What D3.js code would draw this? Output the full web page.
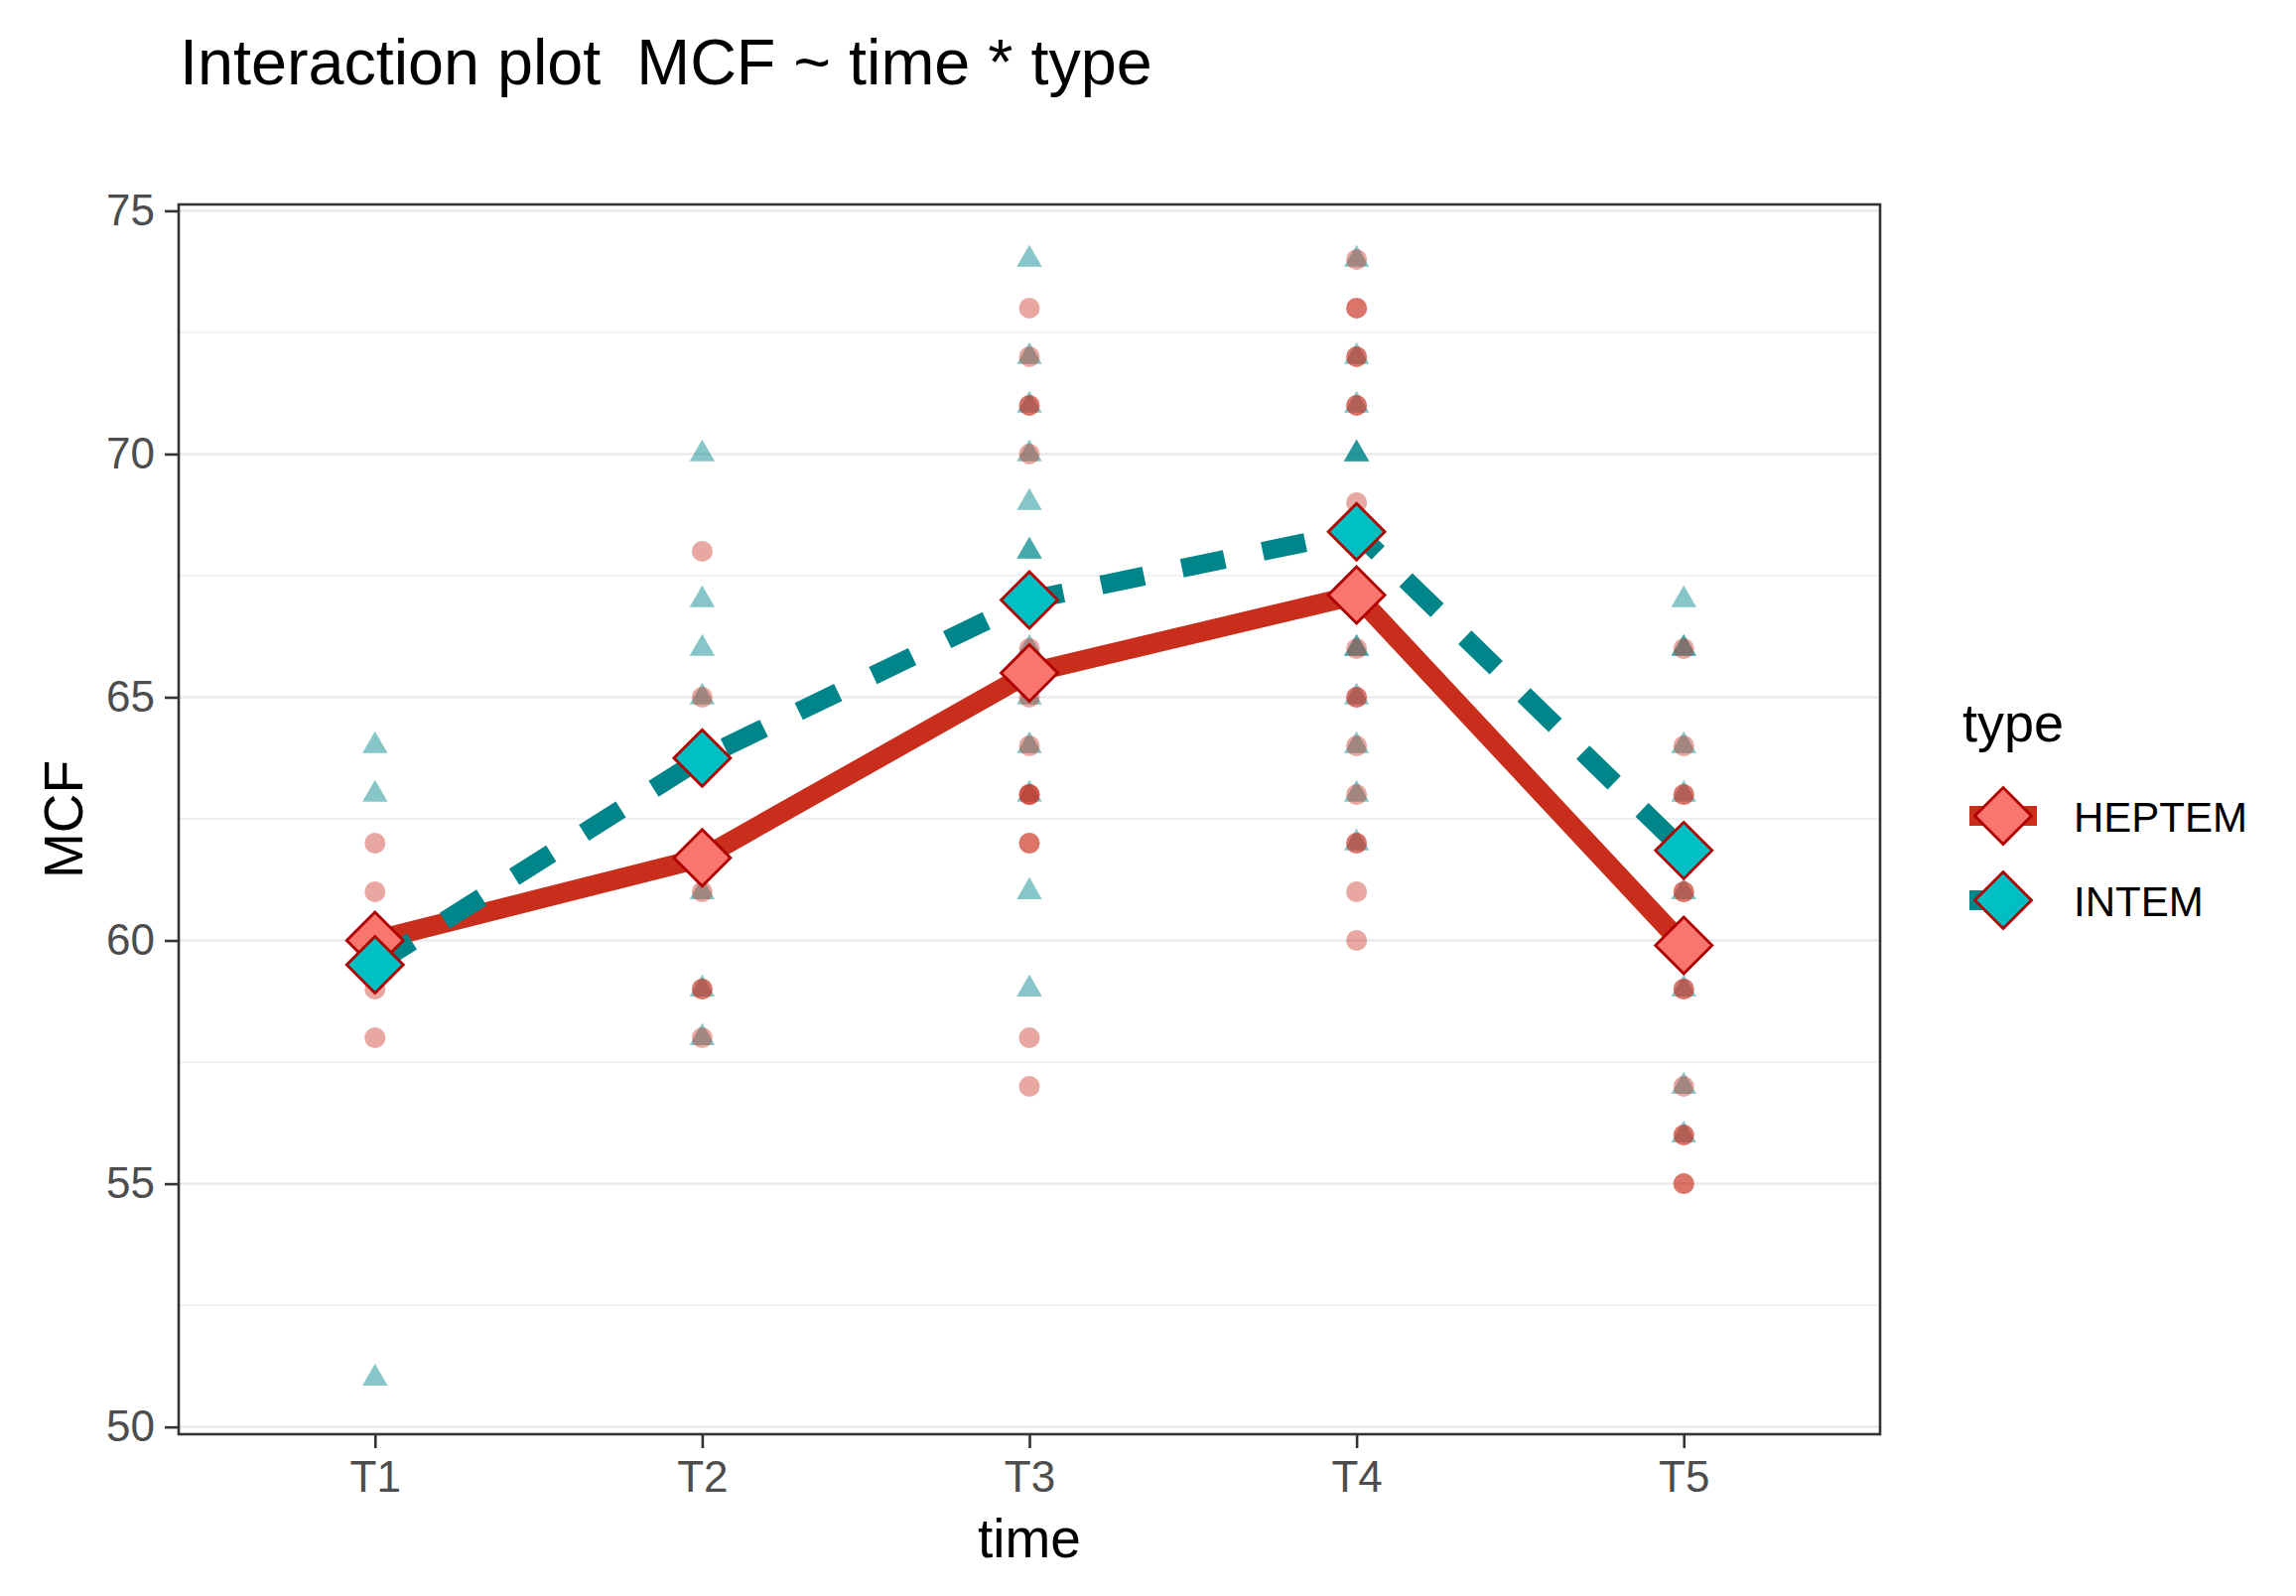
<!DOCTYPE html>
<html>
<head>
<meta charset="utf-8">
<script src="https://cdn.jsdelivr.net/npm/d3@7"></script>
<style>
  body { margin: 0; background: #fff; }
  text { font-family: "Liberation Sans", Arial, Helvetica, sans-serif; }
</style>
</head>
<body>
<svg id="chart" width="2313" height="1608"></svg>
<script>
// data
const times = ["T1", "T2", "T3", "T4", "T5"];
const types = ["HEPTEM", "INTEM"];
const heptemMean = [60.0, 61.7, 65.5, 67.1, 59.9];
const intemMean = [59.5, 63.75, 67.0, 68.4, 61.85];
const heptemObs = [
	[62, 61, 60, 59, 58],
	[68, 65, 61, 59, 59, 58],
	[73, 72, 71, 71, 70, 66, 65, 64, 63, 63, 63, 62, 62, 58, 57],
	[74, 73, 73, 72, 72, 71, 71, 69, 66, 65, 65, 64, 63, 62, 62, 61, 60],
	[66, 64, 63, 63, 61, 61, 59, 59, 57, 56, 56, 55, 55]
];
const intemObs = [
	[64, 63, 60, 51],
	[70, 67, 66, 65, 61, 59, 58],
	[74, 72, 71, 70, 69, 68, 68, 66, 65, 64, 63, 61, 59],
	[74, 72, 71, 70, 70, 70, 66, 66, 65, 64, 63, 62],
	[67, 66, 66, 64, 63, 61, 59, 57, 56]
];
const yTicks = [50, 55, 60, 65, 70, 75];
const yMinor = [52.5, 57.5, 62.5, 67.5, 72.5];

const ctx = { left: 180, right: 1894, top: 206, bottom: 1445 };
const col = {
	heptemLine: "#C92E1C", intemLine: "#00858A",
	heptemFill: "#F8766D", intemFill: "#00BFC4",
	outline: "#B00000"
};

const svg = d3.select("#chart");

const x = d3.scalePoint().domain(times).range([ctx.left, ctx.right]).padding(0.6);
const y = d3.scaleLinear().domain([49.85, 75.13]).range([ctx.bottom, ctx.top]);

// grid
svg.append("g").selectAll("line").data(yMinor).join("line")
	.attr("x1", ctx.left).attr("x2", ctx.right)
	.attr("y1", d => y(d)).attr("y2", d => y(d))
	.attr("stroke", "#EBEBEB").attr("stroke-width", 1.3);
svg.append("g").selectAll("line").data(yTicks).join("line")
	.attr("x1", ctx.left).attr("x2", ctx.right)
	.attr("y1", d => y(d)).attr("y2", d => y(d))
	.attr("stroke", "#EBEBEB").attr("stroke-width", 2.6);

// raw points: triangles (INTEM) under circles (HEPTEM)
function flat(obs) {
	let out = [];
	obs.forEach((vals, i) => vals.forEach(v => out.push({ t: times[i], v: v })));
	return out;
}
const triR = 14.7;
const triPath = `M0,${-triR}L${triR * 0.866},${triR / 2}L${-triR * 0.866},${triR / 2}Z`;
svg.append("g").selectAll("path").data(flat(intemObs)).join("path")
	.attr("d", triPath)
	.attr("transform", d => `translate(${x(d.t)},${y(d.v)})`)
	.attr("fill", col.intemLine).attr("fill-opacity", 0.47);
svg.append("g").selectAll("circle").data(flat(heptemObs)).join("circle")
	.attr("cx", d => x(d.t)).attr("cy", d => y(d.v)).attr("r", 10.5)
	.attr("fill", col.heptemLine).attr("fill-opacity", 0.42);

// mean lines
const line = d3.line().x((d, i) => x(times[i])).y(d => y(d));
svg.append("path").datum(heptemMean).attr("d", line)
	.attr("fill", "none").attr("stroke", col.heptemLine).attr("stroke-width", 20)
	.attr("stroke-linejoin", "round");
svg.append("path").datum(intemMean).attr("d", line)
	.attr("fill", "none").attr("stroke", col.intemLine).attr("stroke-width", 19)
	.attr("stroke-dasharray", "44,39").attr("stroke-linejoin", "round");

// mean diamonds
const dia = 28.5;
const diaPath = `M0,${-dia}L${dia},0L0,${dia}L${-dia},0Z`;
[[heptemMean, col.heptemFill], [intemMean, col.intemFill]].forEach(([m, fill]) => {
	svg.append("g").selectAll("path").data(m).join("path")
		.attr("d", diaPath)
		.attr("transform", (d, i) => `translate(${x(times[i])},${y(d)})`)
		.attr("fill", fill).attr("stroke", col.outline).attr("stroke-width", 2.8)
		.attr("stroke-linejoin", "miter");
});

// axes
const yAxis = svg.append("g").attr("transform", `translate(${ctx.left},0)`)
	.call(d3.axisLeft(y).tickValues(yTicks).tickSize(14).tickPadding(10));
const xAxis = svg.append("g").attr("transform", `translate(0,${ctx.bottom})`)
	.call(d3.axisBottom(x).tickSize(14).tickPadding(13));
[yAxis, xAxis].forEach(a => {
	a.select(".domain").remove();
	a.selectAll(".tick line").attr("stroke", "#333333").attr("stroke-width", 2.6);
	a.selectAll(".tick text").attr("fill", "#4D4D4D").style("font-size", "44px")
		.style("font-family", "'Liberation Sans', Arial, sans-serif");
});

// panel border
svg.append("rect")
	.attr("x", ctx.left).attr("y", ctx.top)
	.attr("width", ctx.right - ctx.left).attr("height", ctx.bottom - ctx.top)
	.attr("fill", "none").attr("stroke", "#333333").attr("stroke-width", 2.6);

// titles
svg.append("text").text("Interaction plot  MCF ~ time * type")
	.attr("x", 181).attr("y", 85).style("font-size", "64.7px").attr("fill", "#000")
	.style("white-space", "pre").attr("xml:space", "preserve");
svg.append("text").text("time")
	.attr("x", (ctx.left + ctx.right) / 2).attr("y", 1569)
	.attr("text-anchor", "middle").style("font-size", "55px");
svg.append("text").text("MCF")
	.attr("transform", `translate(83,${(ctx.top + ctx.bottom) / 2}) rotate(-90)`)
	.attr("text-anchor", "middle").style("font-size", "55px");

// legend
const legend = svg.append("g");
legend.append("text").text("type").attr("x", 1977).attr("y", 747).style("font-size", "54px");
const keys = [
	{ name: types[0], line: col.heptemLine, dash: null, fill: col.heptemFill, cy: 822 },
	{ name: types[1], line: col.intemLine, dash: "44,39", fill: col.intemFill, cy: 907 }
];
keys.forEach(k => {
	legend.append("line")
		.attr("x1", 1984).attr("x2", 2052).attr("y1", k.cy).attr("y2", k.cy)
		.attr("stroke", k.line).attr("stroke-width", 20)
		.attr("stroke-dasharray", k.dash);
	legend.append("path").attr("d", diaPath)
		.attr("transform", `translate(2018,${k.cy})`)
		.attr("fill", k.fill).attr("stroke", col.outline).attr("stroke-width", 2.8);
	legend.append("text").text(k.name)
		.attr("x", 2089).attr("y", k.cy + 16).style("font-size", "42px");
});
</script>
</body>
</html>
